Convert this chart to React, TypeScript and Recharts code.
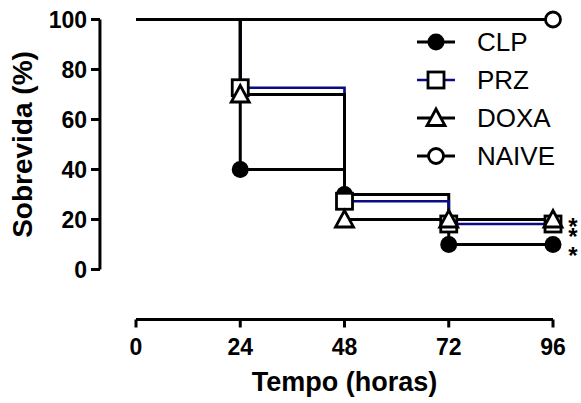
import { LineChart, Line, XAxis, YAxis, Legend, ReferenceLine, LabelList } from "recharts";

// Kaplan-Meier survival, % per time point (hours)
const hours = [0, 24, 48, 72, 96];
const clp = [100, 40, 30, 10, 10];
const prz = [100, 72.7, 27.3, 18.2, 18.2];
const doxa = [100, 70, 20, 20, 20];
const naive = [100, 100, 100, 100, 100];

const xTicks = [0, 24, 48, 72, 96];
const yTicks = [0, 20, 40, 60, 80, 100];
// significance marks shown beside the 96 h points (DOXA, PRZ, CLP)
const stars = ["*", "*", "*"];
const starGaps = [0, 10, 29];

const data = hours.map((h, i) => ({ h, CLP: clp[i], PRZ: prz[i], DOXA: doxa[i], NAIVE: naive[i] }));

const FONT = '"Liberation Sans", Arial, Helvetica, sans-serif';
const Y_MIN = -20; // room below 0 so the x axis sits apart
const Y_AXIS_AT = -8.3; // hours, where the detached y axis line is drawn

if (typeof document !== "undefined") document.body.style.margin = "0";

type Shape = "dot" | "square" | "triangle" | "circle";

const series: { key: "CLP" | "PRZ" | "DOXA" | "NAIVE"; color: string; width: number; shape: Shape }[] = [
  { key: "CLP", color: "#000", width: 3, shape: "dot" },
  { key: "PRZ", color: "#0b0b85", width: 2.7, shape: "square" },
  { key: "DOXA", color: "#000", width: 3, shape: "triangle" },
  { key: "NAIVE", color: "#000", width: 3, shape: "circle" },
];

function Marker({ shape, cx, cy }: { shape: Shape; cx: number; cy: number }) {
  if (shape === "dot") return <circle cx={cx} cy={cy} r={8.5} fill="#000" />;
  if (shape === "circle")
    return <circle cx={cx} cy={cy} r={7.5} fill="#fff" stroke="#000" strokeWidth={2.8} />;
  if (shape === "square")
    return <rect x={cx - 8} y={cy - 8} width={16} height={16} fill="#fff" stroke="#000" strokeWidth={2.8} />;
  return (
    <polygon
      points={`${cx},${cy - 9} ${cx + 9},${cy + 7.5} ${cx - 9},${cy + 7.5}`}
      fill="#fff"
      stroke="#000"
      strokeWidth={2.8}
      strokeLinejoin="miter"
    />
  );
}

const LegendBox = () => (
  <div style={{ fontFamily: FONT, fontSize: 26, color: "#000" }}>
    {series.map((s) => (
      <div key={s.key} style={{ display: "flex", alignItems: "center", height: 38 }}>
        <svg width={40} height={38}>
          <line x1={1} x2={39} y1={19} y2={19} stroke={s.color} strokeWidth={s.width} />
          <Marker shape={s.shape} cx={20} cy={19} />
        </svg>
        <span style={{ marginLeft: 21 }}>{s.key}</span>
      </div>
    ))}
  </div>
);

const YTick = (props: any) => {
  const { x, y, payload } = props;
  return (
    <g>
      <line x1={x - 45} x2={x - 36} y1={y} y2={y} stroke="#000" strokeWidth={3} />
      <text x={x - 49} y={y} dy="0.36em" textAnchor="end" fontFamily={FONT} fontSize={23} fontWeight="bold" fill="#000">
        {payload.value}
      </text>
    </g>
  );
};

const YTitle = (props: any) => {
  const { viewBox } = props;
  const cx = viewBox.x + 32;
  const cy = viewBox.y + (viewBox.height * (100 - 50)) / (100 - Y_MIN);
  return (
    <text
      x={cx}
      y={cy}
      transform={`rotate(-90, ${cx}, ${cy})`}
      textAnchor="middle"
      fontFamily={FONT}
      fontSize={28}
      fontWeight="bold"
      fill="#000"
    >
      Sobrevida (%)
    </text>
  );
};

export default function App() {
  return (
    <LineChart width={581} height={403} data={data} margin={{ top: 19.5, right: 28, left: 0, bottom: 8.5 }}>
      <XAxis
        dataKey="h"
        type="number"
        domain={[0, 96]}
        ticks={xTicks}
        stroke="#000"
        strokeWidth={3}
        tickSize={8}
        tickMargin={11}
        height={75}
        tick={{ fill: "#000", fontSize: 23, fontWeight: "bold", fontFamily: FONT }}
        label={{
          value: "Tempo (horas)",
          position: "insideBottom",
          offset: 4,
          fontSize: 27,
          fontWeight: "bold",
          fontFamily: FONT,
          fill: "#000",
        }}
      />
      <YAxis
        type="number"
        domain={[Y_MIN, 100]}
        ticks={yTicks}
        width={136}
        axisLine={false}
        tickLine={false}
        tickSize={0}
        tickMargin={0}
        tick={<YTick />}
        label={<YTitle />}
      />
      <ReferenceLine
        segment={[
          { x: Y_AXIS_AT, y: 0 },
          { x: Y_AXIS_AT, y: 100 },
        ]}
        stroke="#000"
        strokeWidth={3}
        ifOverflow="visible"
      />
      {series.map((s) => (
        <Line
          key={s.key}
          dataKey={s.key}
          type="stepAfter"
          stroke={s.color}
          strokeWidth={s.width}
          isAnimationActive={false}
          activeDot={false}
          dot={(p: any) => {
            const show = s.key === "NAIVE" ? p.index === hours.length - 1 : p.index > 0;
            if (!show) return <g key={`${s.key}-${p.index}`} />;
            return (
              <g key={`${s.key}-${p.index}`}>
                <Marker shape={s.shape} cx={p.cx} cy={p.cy} />
              </g>
            );
          }}
        >
          {s.key === "DOXA" && (
            <LabelList
              dataKey={s.key}
              content={(p: any) =>
                p.index === hours.length - 1 ? (
                  <text fontFamily={FONT} fontSize={24} fontWeight="bold" fill="#000" textAnchor="middle">
                    {stars.map((st, i) => (
                      <tspan key={i} x={p.x + 20} y={p.y + 15.5 + starGaps[i]}>
                        {st}
                      </tspan>
                    ))}
                  </text>
                ) : null
              }
            />
          )}
        </Line>
      ))}
      <Legend
        layout="horizontal"
        verticalAlign="middle"
        align="center"
        content={<LegendBox />}
        wrapperStyle={{ top: 23, left: 416, width: 160, height: 152 }}
      />
    </LineChart>
  );
}
